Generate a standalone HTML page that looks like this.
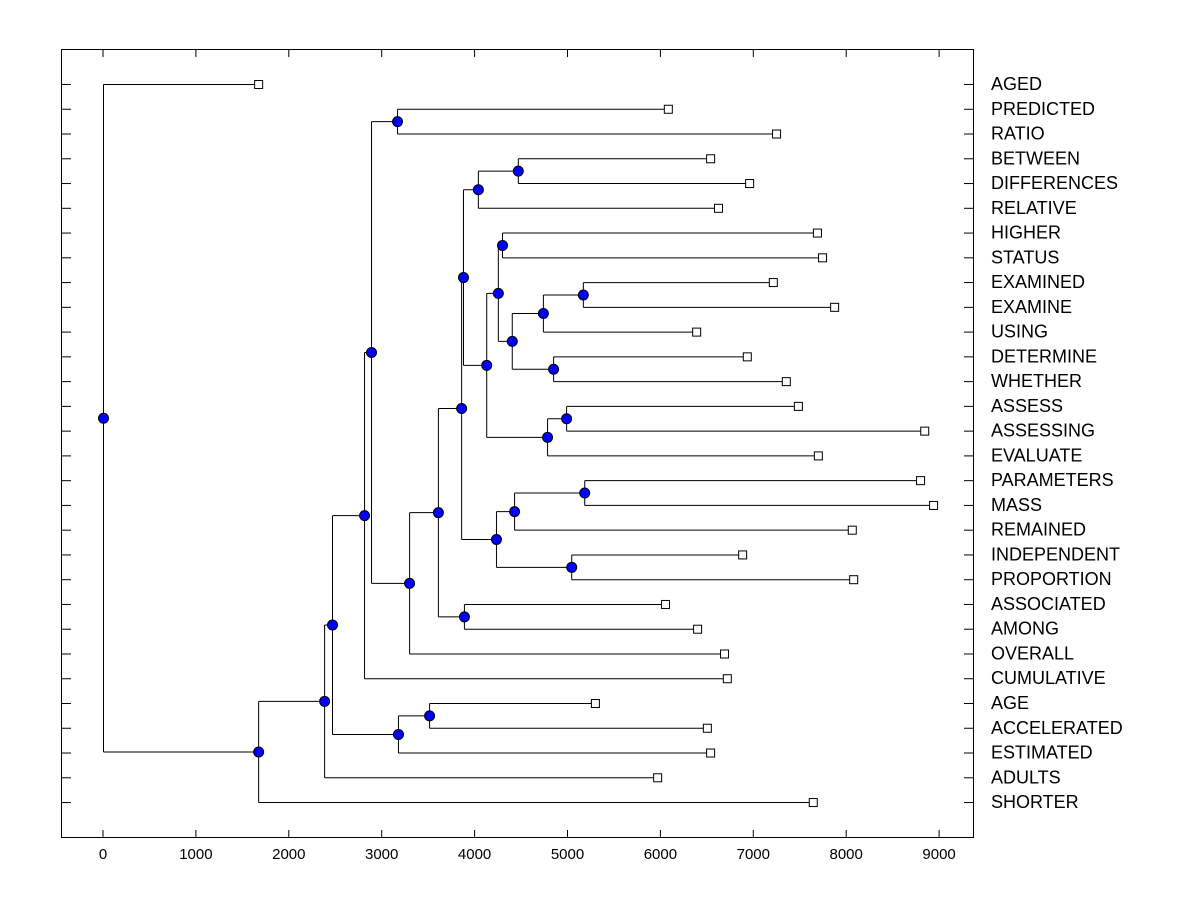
<!DOCTYPE html>
<html><head><meta charset="utf-8"><style>
body{margin:0;background:#fff;}
svg text{font-family:"Liberation Sans",Arial,sans-serif;fill:#000;}
</style></head><body>
<svg id="chart" width="1200" height="900" xmlns="http://www.w3.org/2000/svg">
<rect x="0" y="0" width="1200" height="900" fill="#fff"/>
<g id="g"></g>
</svg>
<script>
const leafNames=["AGED","PREDICTED","RATIO","BETWEEN","DIFFERENCES","RELATIVE","HIGHER","STATUS","EXAMINED","EXAMINE","USING","DETERMINE","WHETHER","ASSESS","ASSESSING","EVALUATE","PARAMETERS","MASS","REMAINED","INDEPENDENT","PROPORTION","ASSOCIATED","AMONG","OVERALL","CUMULATIVE","AGE","ACCELERATED","ESTIMATED","ADULTS","SHORTER"];
const leafValues=[1670,6080,7245,6535,6955,6620,7685,7740,7210,7870,6385,6930,7350,7480,8840,7695,8795,8935,8060,6880,8075,6050,6395,6685,6715,5295,6500,6535,5965,7640];
// merges: [id, childA, childB, height]
const mergeIds=["n7","n16","n14","n19","n23","n21","n22","n20","n17","n24","n18","n15","n12","n27","n25","n26","n13","n10","n11","n9","n8","n6","n3","n5","n4","n2","n1","A","root"];
const mergeA=["PREDICTED","BETWEEN","n16","HIGHER","EXAMINED","n23","DETERMINE","n21","n19","ASSESS","n24","n17","n14","PARAMETERS","n27","INDEPENDENT","n25","n12","ASSOCIATED","n10","n9","n7","n6","AGE","n5","n3","n2","n1","AGED"];
const mergeB=["RATIO","DIFFERENCES","RELATIVE","STATUS","EXAMINE","USING","WHETHER","n22","n20","ASSESSING","EVALUATE","n18","n15","MASS","REMAINED","PROPORTION","n26","n13","AMONG","n11","OVERALL","n8","CUMULATIVE","ACCELERATED","ESTIMATED","n4","ADULTS","SHORTER","A"];
const mergeHeights=[3165,4465,4035,4295,5165,4735,4845,4400,4250,4985,4780,4125,3875,5180,4425,5040,4230,3855,3885,3605,3295,2885,2810,3510,3175,2465,2380,1670,0];
const xTicks=[0,1000,2000,3000,4000,5000,6000,7000,8000,9000];

const NS="http://www.w3.org/2000/svg";
const g=document.getElementById('g');
const L=61,R=974,T=49,B=838;
const xs=v=>103+v*0.0929;
const ys=i=>84+i*24.76;
function el(t,a){const e=document.createElementNS(NS,t);for(const k in a)e.setAttribute(k,a[k]);g.appendChild(e);return e;}

const frame=el('rect',{x:L+.5,y:T+.5,width:R-L-1,height:B-T-1,fill:'none',stroke:'#000','stroke-width':1});



xTicks.forEach(v=>{
  const x=xs(v);
  const t1=el('line',{x1:x,x2:x,y1:T,y2:T+8,stroke:'#000'});
  
  
  const t2=el('line',{x1:x,x2:x,y1:B,y2:B-8,stroke:'#000'});
  
  
  const tx=el('text',{x:x,y:B+21,'text-anchor':'middle','font-size':15});
  tx.textContent=v;
  
  
});

const pos={};
leafNames.forEach((n,i)=>{pos[n]={x:xs(leafValues[i]),y:ys(i),leaf:true};
  const a=el('line',{x1:L,x2:L+10,y1:ys(i)+.5,y2:ys(i)+.5,stroke:'#000'});
  
  
  const b=el('line',{x1:R-10,x2:R,y1:ys(i)+.5,y2:ys(i)+.5,stroke:'#000'});
  
  
  const t=el('text',{x:991,y:ys(i)+6,'font-size':18});
  t.textContent=n;
  
  
});
mergeIds.forEach((id,k)=>{
  const a=pos[mergeA[k]],b=pos[mergeB[k]];
  pos[id]={x:xs(mergeHeights[k]),y:(a.y+b.y)/2};
});
mergeIds.forEach((id,k)=>{
  const p=pos[id],a=pos[mergeA[k]],b=pos[mergeB[k]];
  const v=el('line',{x1:p.x+.5,x2:p.x+.5,y1:a.y+.5,y2:b.y+.5,stroke:'#000'});
  
  
  [a,b].forEach(c=>{
    const h=el('line',{x1:p.x+.5,x2:c.x,y1:c.y+.5,y2:c.y+.5,stroke:'#000'});
    
    
  });
});
leafNames.forEach(n=>{
  const p=pos[n];
  const s=el('rect',{x:p.x-3.5,y:p.y-3.5,width:8,height:8,fill:'#fff',stroke:'#000'});
  
  
});
mergeIds.forEach(id=>{
  const p=pos[id];
  const c=el('circle',{cx:p.x+.5,cy:p.y+.5,r:5,fill:'#0000ff',stroke:'#000'});
  
  
});
</script>
</body></html>
